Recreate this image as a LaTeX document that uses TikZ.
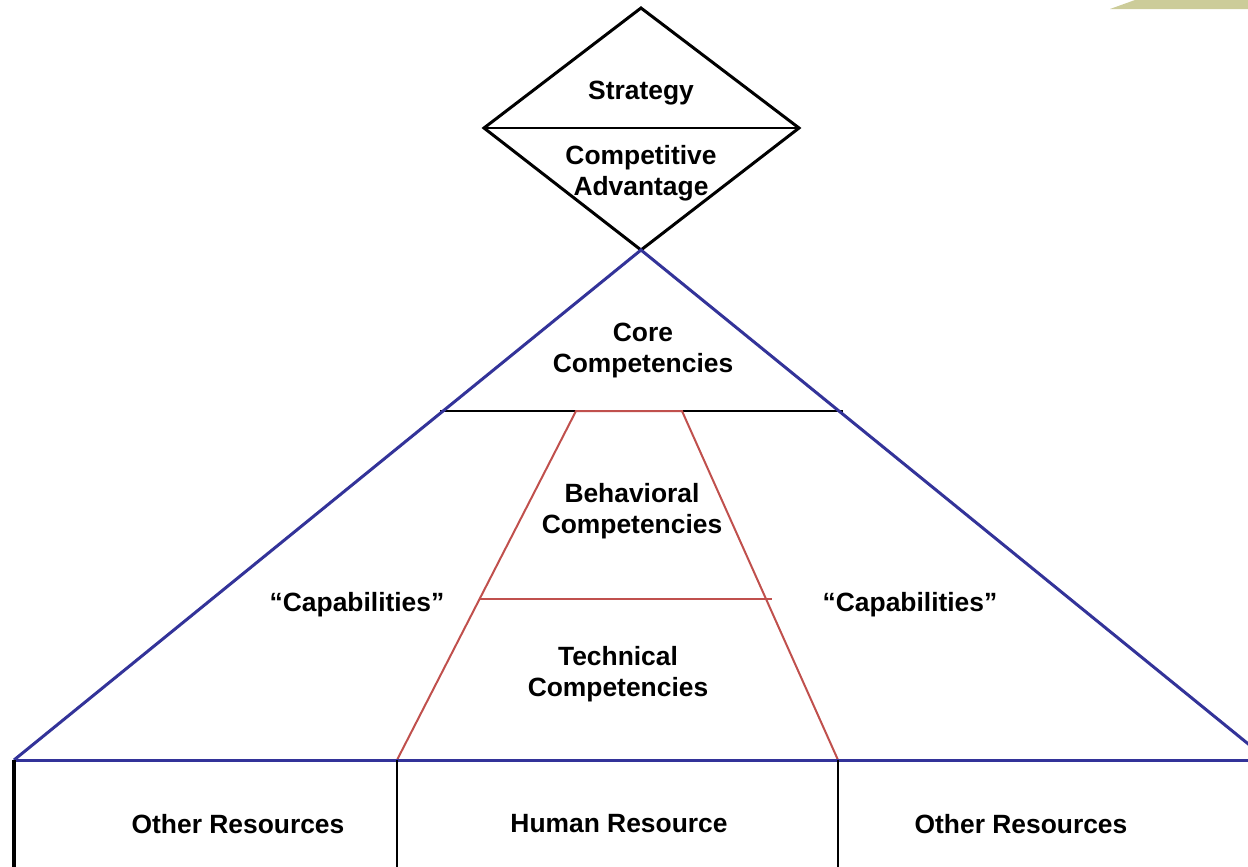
\documentclass[tikz,border=0pt]{standalone}
\usepackage{fontspec}
\setmainfont{Liberation Sans}
\definecolor{piramide}{HTML}{333399}
\definecolor{trapezio}{HTML}{C0504D}
\definecolor{oliva}{HTML}{CCCC99}
\tikzset{etichetta/.style={font=\fontsize{13.2}{15.5}\selectfont\bfseries, align=center}}
\begin{document}
\begin{tikzpicture}[x=0.5pt, y=-0.5pt]
            \useasboundingbox (0,0) rectangle (1248,867);
            %vertici
            \coordinate (rombo-n) at (641,8);
            \coordinate (rombo-o) at (484,128);
            \coordinate (rombo-e) at (799,128);
            \coordinate (apice) at (641,250);
            \coordinate (base-o) at (14,760);
            \coordinate (base-e) at (1268,760);
            \coordinate (trap-no) at (576,411);
            \coordinate (trap-ne) at (682,411);
            \coordinate (trap-so) at (397,760);
            \coordinate (trap-se) at (838,760);
            %angolo in alto
            \fill[oliva] (1110,9) -- (1135,0) -- (1248,0) -- (1248,9) -- cycle;
            %rombo
            \draw[line width=1.5pt] (rombo-n) -- (rombo-e) -- (apice) -- (rombo-o) -- cycle;
            \draw[line width=1pt] (rombo-o) -- (rombo-e);
            %segmenti
            \draw[line width=1pt] (440,411) -- (843,411);
            \draw[trapezio, line width=1pt] (trap-so) -- (trap-no) -- (trap-ne) -- (trap-se);
            \draw[trapezio, line width=1pt] (480,599) -- (772,599);
            \draw[piramide, line width=1.5pt] (base-o) -- (apice) -- (base-e);
            \draw[piramide, line width=1.5pt] (base-o) -- (1260,760);
            \draw[line width=1.6pt] (base-o) -- (14,867);
            \draw[line width=1pt] (trap-so) -- (397,867);
            \draw[line width=1pt] (trap-se) -- (838,867);
            %etichette
            \node[etichetta] (strategia) at (641,93) {Strategy};
            \node[etichetta] (vantaggio) at (641,173) {Competitive\\Advantage};
            \node[etichetta] (core) at (643,351) {Core\\Competencies};
            \node[etichetta] (comport) at (632,511) {Behavioral\\Competencies};
            \node[etichetta] (tecniche) at (618,674) {Technical\\Competencies};
            \node[etichetta] (capac-o) at (357,605) {``Capabilities''};
            \node[etichetta] (capac-e) at (910,605) {``Capabilities''};
            \node[etichetta] (altre-o) at (238,824) {Other Resources};
            \node[etichetta] (umane) at (619,824) {Human Resource};
            \node[etichetta] (altre-e) at (1021,824) {Other Resources};
        \end{tikzpicture}
\end{document}
